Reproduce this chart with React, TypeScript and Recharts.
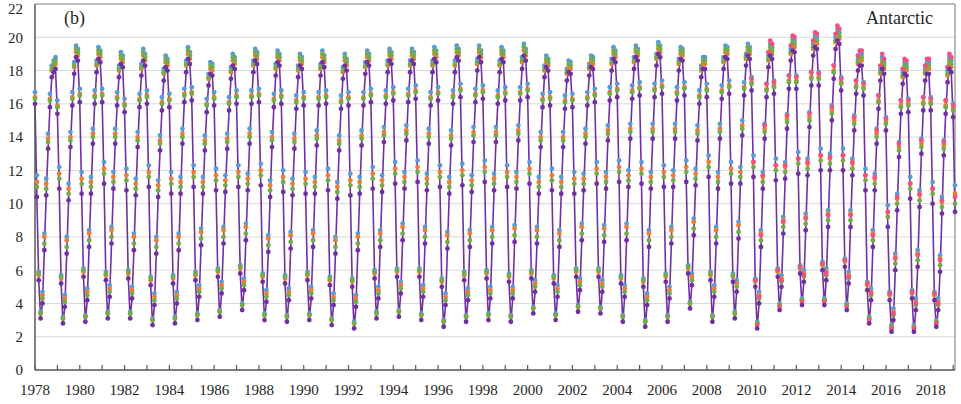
import { LineChart, Line, XAxis, YAxis, CartesianGrid, ReferenceLine } from 'recharts'

// Antarctic sea-ice extent (10^6 km2), monthly, Nov 1978 - Dec 2019.
// one line per year, Jan..Dec (1978 only Nov, Dec)
const PURPLE = [
  16.0, 10.4,
  5.4, 3.1, 4.0, 7.2, 10.5, 13.3, 15.8, 17.6, 17.9, 18.1, 15.4, 10.9,
  5.2, 2.8, 3.8, 7.0, 10.2, 13.4, 15.9, 17.8, 18.8, 18.6, 16.1, 10.6,
  5.6, 2.9, 4.2, 7.4, 10.6, 13.6, 16.0, 17.9, 18.7, 18.5, 16.1, 11.2,
  5.4, 3.1, 4.4, 7.6, 10.9, 13.6, 15.9, 17.6, 18.4, 18.2, 15.5, 10.8,
  5.5, 3.1, 4.3, 7.2, 10.5, 13.4, 15.8, 17.7, 18.6, 18.3, 16.0, 11.0,
  5.1, 2.7, 3.9, 7.0, 10.4, 13.2, 15.6, 17.4, 18.2, 18.0, 15.8, 10.6,
  5.2, 2.8, 4.0, 7.2, 10.6, 13.6, 16.1, 17.9, 18.7, 18.4, 16.2, 11.0,
  5.4, 3.0, 4.4, 7.5, 10.6, 13.2, 15.5, 17.1, 17.8, 17.7, 15.9, 10.8,
  5.6, 3.2, 4.6, 7.6, 10.7, 13.3, 15.6, 17.5, 18.3, 18.1, 16.0, 11.0,
  5.8, 3.6, 4.8, 7.8, 10.8, 13.6, 16.0, 17.9, 18.6, 18.4, 16.1, 11.1,
  5.3, 3.0, 4.1, 7.1, 10.4, 13.4, 15.8, 17.7, 18.5, 18.3, 16.0, 10.7,
  5.2, 2.9, 4.2, 7.3, 10.5, 13.3, 15.7, 17.6, 18.3, 18.1, 15.9, 10.6,
  5.4, 3.0, 4.3, 7.4, 10.6, 13.5, 15.9, 17.7, 18.5, 18.2, 16.0, 10.8,
  5.1, 2.7, 3.9, 7.0, 10.3, 13.2, 15.7, 17.5, 18.3, 18.0, 15.9, 10.5,
  5.0, 2.5, 3.8, 7.2, 10.6, 13.5, 15.9, 17.8, 18.5, 18.3, 16.1, 10.9,
  5.5, 3.1, 4.3, 7.4, 10.7, 13.7, 16.0, 17.9, 18.6, 18.4, 16.2, 11.2,
  5.6, 3.2, 4.6, 7.8, 10.9, 13.8, 16.1, 17.9, 18.6, 18.4, 16.3, 11.3,
  5.6, 3.0, 4.4, 7.6, 10.8, 13.6, 15.9, 17.9, 18.7, 18.5, 16.2, 11.0,
  5.0, 2.6, 3.9, 7.3, 10.6, 13.5, 16.0, 17.9, 18.8, 18.6, 16.4, 11.1,
  5.4, 2.9, 4.2, 7.4, 10.7, 13.7, 16.1, 18.0, 18.8, 18.5, 16.3, 11.3,
  5.5, 3.0, 4.3, 7.6, 10.8, 13.7, 16.0, 17.9, 18.7, 18.5, 16.2, 11.0,
  5.3, 2.9, 4.3, 7.7, 10.9, 13.8, 16.2, 18.1, 18.9, 18.6, 16.4, 11.2,
  5.5, 3.4, 4.7, 7.6, 10.6, 13.4, 15.8, 17.6, 18.2, 18.0, 15.9, 10.8,
  5.2, 3.0, 4.4, 7.4, 10.6, 13.4, 15.7, 17.4, 17.9, 17.8, 15.8, 10.6,
  5.6, 3.5, 4.8, 7.8, 10.8, 13.6, 15.9, 17.7, 18.2, 18.1, 16.1, 11.2,
  5.6, 3.4, 4.7, 7.7, 10.9, 13.8, 16.2, 18.0, 18.7, 18.5, 16.4, 11.3,
  5.2, 2.9, 4.4, 7.8, 11.0, 13.9, 16.3, 18.1, 18.8, 18.6, 16.5, 11.2,
  5.0, 2.6, 3.9, 7.4, 10.9, 13.9, 16.4, 18.3, 19.0, 18.8, 16.6, 11.0,
  5.3, 2.9, 4.3, 7.6, 11.0, 13.9, 16.2, 18.0, 18.7, 18.6, 16.5, 11.3,
  5.8, 3.7, 5.1, 8.1, 11.1, 13.8, 16.0, 17.6, 18.1, 18.1, 16.4, 11.6,
  5.4, 2.9, 4.4, 7.6, 10.9, 13.9, 16.3, 18.1, 18.8, 18.7, 16.6, 11.2,
  5.3, 3.1, 4.7, 7.9, 11.2, 14.1, 16.5, 18.3, 18.9, 18.7, 16.8, 11.6,
  5.0, 2.5, 4.0, 7.4, 10.9, 13.9, 16.4, 18.2, 18.9, 18.7, 16.6, 11.4,
  5.6, 3.6, 5.0, 8.2, 11.5, 14.5, 16.9, 18.6, 19.2, 19.1, 16.9, 11.8,
  5.8, 3.9, 5.3, 8.4, 11.7, 14.6, 17.1, 18.9, 19.4, 19.3, 17.1, 12.0,
  6.0, 3.9, 5.4, 8.6, 12.0, 15.0, 17.5, 19.3, 19.8, 19.6, 16.8, 12.0,
  6.2, 3.6, 5.2, 8.6, 11.7, 14.4, 16.6, 18.0, 18.3, 18.3, 16.5, 10.8,
  4.8, 2.8, 4.2, 7.4, 10.8, 13.6, 15.7, 17.4, 18.1, 17.8, 14.4, 8.6,
  4.2, 2.3, 3.0, 6.0, 9.6, 12.8, 15.4, 17.2, 17.8, 17.7, 15.5, 10.3,
  4.3, 2.3, 3.6, 6.2, 9.8, 13.0, 15.6, 17.4, 17.8, 17.8, 15.6, 10.0,
  4.2, 2.6, 3.6, 5.9, 9.4, 12.9, 15.4, 17.3, 18.1, 17.9, 15.2, 9.5,
]

const BLUE = [
  16.7, 11.7,
  5.9, 3.5, 4.7, 8.2, 11.5, 14.2, 16.6, 18.3, 18.6, 18.8, 16.2, 12.2,
  5.7, 3.2, 4.5, 8.0, 11.2, 14.3, 16.7, 18.5, 19.5, 19.3, 16.9, 11.9,
  6.1, 3.3, 4.9, 8.4, 11.6, 14.5, 16.8, 18.6, 19.4, 19.2, 16.9, 12.5,
  5.9, 3.5, 5.1, 8.6, 11.9, 14.5, 16.7, 18.3, 19.1, 18.9, 16.3, 12.1,
  6.0, 3.5, 5.0, 8.2, 11.5, 14.3, 16.6, 18.4, 19.3, 19.0, 16.8, 12.3,
  5.6, 3.1, 4.6, 8.0, 11.4, 14.1, 16.4, 18.1, 18.9, 18.7, 16.6, 11.9,
  5.7, 3.2, 4.7, 8.2, 11.6, 14.5, 16.9, 18.6, 19.4, 19.1, 17.0, 12.3,
  5.9, 3.4, 5.1, 8.5, 11.6, 14.1, 16.3, 17.8, 18.5, 18.4, 16.7, 12.1,
  6.1, 3.6, 5.3, 8.6, 11.7, 14.2, 16.4, 18.2, 19.0, 18.8, 16.8, 12.3,
  6.3, 4.0, 5.5, 8.8, 11.8, 14.5, 16.8, 18.6, 19.3, 19.1, 16.9, 12.4,
  5.8, 3.4, 4.8, 8.1, 11.4, 14.3, 16.6, 18.4, 19.2, 19.0, 16.8, 12.0,
  5.7, 3.3, 4.9, 8.3, 11.5, 14.2, 16.5, 18.3, 19.0, 18.8, 16.7, 11.9,
  5.9, 3.4, 5.0, 8.4, 11.6, 14.4, 16.7, 18.4, 19.2, 18.9, 16.8, 12.1,
  5.6, 3.1, 4.6, 8.0, 11.3, 14.1, 16.5, 18.2, 19.0, 18.7, 16.7, 11.8,
  5.5, 2.9, 4.5, 8.2, 11.6, 14.4, 16.7, 18.5, 19.2, 19.0, 16.9, 12.2,
  6.0, 3.5, 5.0, 8.4, 11.7, 14.6, 16.8, 18.6, 19.3, 19.1, 17.0, 12.5,
  6.1, 3.6, 5.3, 8.8, 11.9, 14.7, 16.9, 18.6, 19.3, 19.1, 17.1, 12.6,
  6.1, 3.4, 5.1, 8.6, 11.8, 14.5, 16.7, 18.6, 19.4, 19.2, 17.0, 12.3,
  5.5, 3.0, 4.6, 8.3, 11.6, 14.4, 16.8, 18.6, 19.5, 19.3, 17.2, 12.4,
  5.9, 3.3, 4.9, 8.4, 11.7, 14.6, 16.9, 18.7, 19.5, 19.2, 17.1, 12.6,
  6.0, 3.4, 5.0, 8.6, 11.8, 14.6, 16.8, 18.6, 19.4, 19.2, 17.0, 12.3,
  5.8, 3.3, 5.0, 8.7, 11.9, 14.7, 17.0, 18.8, 19.6, 19.3, 17.2, 12.5,
  6.0, 3.8, 5.4, 8.6, 11.6, 14.3, 16.6, 18.3, 18.9, 18.7, 16.7, 12.1,
  5.7, 3.4, 5.1, 8.4, 11.6, 14.3, 16.5, 18.1, 18.6, 18.5, 16.6, 11.9,
  6.1, 3.9, 5.5, 8.8, 11.8, 14.5, 16.7, 18.4, 18.9, 18.8, 16.9, 12.5,
  6.1, 3.8, 5.4, 8.7, 11.9, 14.7, 17.0, 18.7, 19.4, 19.2, 17.2, 12.6,
  5.7, 3.3, 5.1, 8.8, 12.0, 14.8, 17.1, 18.8, 19.5, 19.3, 17.3, 12.5,
  5.5, 3.0, 4.6, 8.4, 11.9, 14.8, 17.2, 19.0, 19.7, 19.5, 17.4, 12.3,
  5.8, 3.3, 5.0, 8.6, 12.0, 14.8, 17.0, 18.7, 19.4, 19.3, 17.3, 12.6,
  6.3, 4.1, 5.8, 9.1, 12.1, 14.7, 16.8, 18.3, 18.8, 18.8, 17.2, 12.9,
  5.9, 3.3, 5.1, 8.6, 11.9, 14.8, 17.1, 18.8, 19.5, 19.4, 17.4, 12.5,
  5.8, 3.5, 5.4, 8.9, 12.2, 15.0, 17.3, 19.0, 19.6, 19.4, 17.6, 12.9,
  5.5, 2.9, 4.7, 8.4, 11.9, 14.8, 17.2, 18.9, 19.6, 19.4, 17.4, 12.7,
  6.1, 4.0, 5.7, 9.2, 12.5, 15.4, 17.7, 19.3, 19.9, 19.8, 17.7, 13.1,
  6.3, 4.3, 6.0, 9.4, 12.7, 15.5, 17.9, 19.6, 20.1, 20.0, 17.9, 13.3,
  6.5, 4.3, 6.1, 9.6, 13.0, 15.9, 18.3, 20.0, 20.5, 20.3, 17.6, 13.3,
  6.7, 4.0, 5.9, 9.6, 12.7, 15.3, 17.4, 18.7, 19.0, 19.0, 17.3, 12.1,
  5.3, 3.2, 4.9, 8.4, 11.8, 14.5, 16.5, 18.1, 18.8, 18.5, 15.2, 9.9,
  4.7, 2.7, 3.7, 7.0, 10.6, 13.7, 16.2, 17.9, 18.5, 18.4, 16.3, 11.6,
  4.8, 2.7, 4.3, 7.2, 10.8, 13.9, 16.4, 18.1, 18.5, 18.5, 16.4, 11.3,
  4.7, 3.0, 4.3, 6.9, 10.4, 13.8, 16.2, 18.0, 18.8, 18.6, 16.0, 11.1,
]

const ORANGE = [
  16.4, 11.3,
  5.7, 3.4, 4.5, 8.0, 11.2, 13.9, 16.3, 18.0, 18.2, 18.4, 15.9, 11.8,
  5.5, 3.1, 4.3, 7.8, 10.9, 14.0, 16.4, 18.2, 19.1, 18.9, 16.6, 11.5,
  5.9, 3.2, 4.7, 8.2, 11.3, 14.2, 16.5, 18.3, 19.0, 18.8, 16.6, 12.1,
  5.7, 3.4, 4.9, 8.4, 11.6, 14.2, 16.4, 18.0, 18.7, 18.5, 16.0, 11.7,
  5.8, 3.4, 4.8, 8.0, 11.2, 14.0, 16.3, 18.1, 18.9, 18.6, 16.5, 11.9,
  5.4, 3.0, 4.4, 7.8, 11.1, 13.8, 16.1, 17.8, 18.5, 18.3, 16.3, 11.5,
  5.5, 3.1, 4.5, 8.0, 11.3, 14.2, 16.6, 18.3, 19.0, 18.7, 16.7, 11.9,
  5.7, 3.3, 4.9, 8.3, 11.3, 13.8, 16.0, 17.5, 18.1, 18.0, 16.4, 11.7,
  5.9, 3.5, 5.1, 8.4, 11.4, 13.9, 16.1, 17.9, 18.6, 18.4, 16.5, 11.9,
  6.1, 3.9, 5.3, 8.6, 11.5, 14.2, 16.5, 18.3, 18.9, 18.7, 16.6, 12.0,
  5.6, 3.3, 4.6, 7.9, 11.1, 14.0, 16.3, 18.1, 18.8, 18.6, 16.5, 11.6,
  5.5, 3.2, 4.7, 8.1, 11.2, 13.9, 16.2, 18.0, 18.6, 18.4, 16.4, 11.5,
  5.7, 3.3, 4.8, 8.2, 11.3, 14.1, 16.4, 18.1, 18.8, 18.5, 16.5, 11.7,
  5.4, 3.0, 4.4, 7.8, 11.0, 13.8, 16.2, 17.9, 18.6, 18.3, 16.4, 11.4,
  5.3, 2.8, 4.3, 8.0, 11.3, 14.1, 16.4, 18.2, 18.8, 18.6, 16.6, 11.8,
  5.8, 3.4, 4.8, 8.2, 11.4, 14.3, 16.5, 18.3, 18.9, 18.7, 16.7, 12.1,
  5.9, 3.5, 5.1, 8.6, 11.6, 14.4, 16.6, 18.3, 18.9, 18.7, 16.8, 12.2,
  5.9, 3.3, 4.9, 8.4, 11.5, 14.2, 16.4, 18.3, 19.0, 18.8, 16.7, 11.9,
  5.3, 2.9, 4.4, 8.1, 11.3, 14.1, 16.5, 18.3, 19.1, 18.9, 16.9, 12.0,
  5.7, 3.2, 4.7, 8.2, 11.4, 14.3, 16.6, 18.4, 19.1, 18.8, 16.8, 12.2,
  5.8, 3.3, 4.8, 8.4, 11.5, 14.3, 16.5, 18.3, 19.0, 18.8, 16.7, 11.9,
  5.6, 3.2, 4.8, 8.5, 11.6, 14.4, 16.7, 18.5, 19.2, 18.9, 16.9, 12.1,
  5.8, 3.7, 5.2, 8.4, 11.3, 14.0, 16.3, 18.0, 18.5, 18.3, 16.4, 11.7,
  5.5, 3.3, 4.9, 8.2, 11.3, 14.0, 16.2, 17.8, 18.2, 18.1, 16.3, 11.5,
  5.9, 3.8, 5.3, 8.6, 11.5, 14.2, 16.4, 18.1, 18.5, 18.4, 16.6, 12.1,
  5.9, 3.7, 5.2, 8.5, 11.6, 14.4, 16.7, 18.4, 19.0, 18.8, 16.9, 12.2,
  5.5, 3.2, 4.9, 8.6, 11.7, 14.5, 16.8, 18.5, 19.1, 18.9, 17.0, 12.1,
  5.3, 2.9, 4.4, 8.2, 11.6, 14.5, 16.9, 18.7, 19.3, 19.1, 17.1, 11.9,
  5.6, 3.2, 4.8, 8.4, 11.7, 14.5, 16.7, 18.4, 19.0, 18.9, 17.0, 12.2,
  6.1, 4.0, 5.6, 8.9, 11.8, 14.4, 16.5, 18.0, 18.4, 18.4, 16.9, 12.5,
  5.7, 3.2, 4.9, 8.4, 11.6, 14.5, 16.8, 18.5, 19.1, 19.0, 17.1, 12.1,
  5.6, 3.4, 5.2, 8.7, 11.9, 14.7, 17.0, 18.7, 19.2, 19.0, 17.3, 12.5,
  5.3, 2.8, 4.5, 8.2, 11.6, 14.5, 16.9, 18.6, 19.2, 19.0, 17.1, 12.3,
  5.9, 3.9, 5.5, 9.0, 12.2, 15.1, 17.4, 19.0, 19.5, 19.4, 17.4, 12.7,
  6.1, 4.2, 5.8, 9.2, 12.4, 15.2, 17.6, 19.3, 19.7, 19.6, 17.6, 12.9,
  6.3, 4.2, 5.9, 9.4, 12.7, 15.6, 18.0, 19.7, 20.1, 19.9, 17.3, 12.9,
  6.5, 3.9, 5.7, 9.4, 12.4, 15.0, 17.1, 18.4, 18.6, 18.6, 17.0, 11.7,
  5.1, 3.1, 4.7, 8.2, 11.5, 14.2, 16.2, 17.8, 18.4, 18.1, 14.9, 9.5,
  4.5, 2.6, 3.5, 6.8, 10.3, 13.4, 15.9, 17.6, 18.1, 18.0, 16.0, 11.2,
  4.6, 2.6, 4.1, 7.0, 10.5, 13.6, 16.1, 17.8, 18.1, 18.1, 16.1, 10.9,
  4.5, 2.9, 4.1, 6.7, 10.1, 13.5, 15.9, 17.7, 18.4, 18.2, 15.7, 10.6,
]

const GREEN = [
  16.3, 11.0,
  5.8, 3.4, 4.3, 7.6, 10.9, 13.7, 16.2, 18.1, 18.4, 18.6, 15.8, 11.5,
  5.6, 3.1, 4.1, 7.4, 10.6, 13.8, 16.3, 18.3, 19.3, 19.1, 16.5, 11.2,
  6.0, 3.2, 4.5, 7.8, 11.0, 14.0, 16.4, 18.4, 19.2, 19.0, 16.5, 11.8,
  5.8, 3.4, 4.7, 8.0, 11.3, 14.0, 16.3, 18.1, 18.9, 18.7, 15.9, 11.4,
  5.9, 3.4, 4.6, 7.6, 10.9, 13.8, 16.2, 18.2, 19.1, 18.8, 16.4, 11.6,
  5.5, 3.0, 4.2, 7.4, 10.8, 13.6, 16.0, 17.9, 18.7, 18.5, 16.2, 11.2,
  5.6, 3.1, 4.3, 7.6, 11.0, 14.0, 16.5, 18.4, 19.2, 18.9, 16.6, 11.6,
  5.8, 3.3, 4.7, 7.9, 11.0, 13.6, 15.9, 17.6, 18.3, 18.2, 16.3, 11.4,
  6.0, 3.5, 4.9, 8.0, 11.1, 13.7, 16.0, 18.0, 18.8, 18.6, 16.4, 11.6,
  6.2, 3.9, 5.1, 8.2, 11.2, 14.0, 16.4, 18.4, 19.1, 18.9, 16.5, 11.7,
  5.7, 3.3, 4.4, 7.5, 10.8, 13.8, 16.2, 18.2, 19.0, 18.8, 16.4, 11.3,
  5.6, 3.2, 4.5, 7.7, 10.9, 13.7, 16.1, 18.1, 18.8, 18.6, 16.3, 11.2,
  5.8, 3.3, 4.6, 7.8, 11.0, 13.9, 16.3, 18.2, 19.0, 18.7, 16.4, 11.4,
  5.5, 3.0, 4.2, 7.4, 10.7, 13.6, 16.1, 18.0, 18.8, 18.5, 16.3, 11.1,
  5.4, 2.8, 4.1, 7.6, 11.0, 13.9, 16.3, 18.3, 19.0, 18.8, 16.5, 11.5,
  5.9, 3.4, 4.6, 7.8, 11.1, 14.1, 16.4, 18.4, 19.1, 18.9, 16.6, 11.8,
  6.0, 3.5, 4.9, 8.2, 11.3, 14.2, 16.5, 18.4, 19.1, 18.9, 16.7, 11.9,
  6.0, 3.3, 4.7, 8.0, 11.2, 14.0, 16.3, 18.4, 19.2, 19.0, 16.6, 11.6,
  5.4, 2.9, 4.2, 7.7, 11.0, 13.9, 16.4, 18.4, 19.3, 19.1, 16.8, 11.7,
  5.8, 3.2, 4.5, 7.8, 11.1, 14.1, 16.5, 18.5, 19.3, 19.0, 16.7, 11.9,
  5.9, 3.3, 4.6, 8.0, 11.2, 14.1, 16.4, 18.4, 19.2, 19.0, 16.6, 11.6,
  5.7, 3.2, 4.6, 8.1, 11.3, 14.2, 16.6, 18.6, 19.4, 19.1, 16.8, 11.8,
  5.9, 3.7, 5.0, 8.0, 11.0, 13.8, 16.2, 18.1, 18.7, 18.5, 16.3, 11.4,
  5.6, 3.3, 4.7, 7.8, 11.0, 13.8, 16.1, 17.9, 18.4, 18.3, 16.2, 11.2,
  6.0, 3.8, 5.1, 8.2, 11.2, 14.0, 16.3, 18.2, 18.7, 18.6, 16.5, 11.8,
  6.0, 3.7, 5.0, 8.1, 11.3, 14.2, 16.6, 18.5, 19.2, 19.0, 16.8, 11.9,
  5.6, 3.2, 4.7, 8.2, 11.4, 14.3, 16.7, 18.6, 19.3, 19.1, 16.9, 11.8,
  5.4, 2.9, 4.2, 7.8, 11.3, 14.3, 16.8, 18.8, 19.5, 19.3, 17.0, 11.6,
  5.7, 3.2, 4.6, 8.0, 11.4, 14.3, 16.6, 18.5, 19.2, 19.1, 16.9, 11.9,
  6.2, 4.0, 5.4, 8.5, 11.5, 14.2, 16.4, 18.1, 18.6, 18.6, 16.8, 12.2,
  5.8, 3.2, 4.7, 8.0, 11.3, 14.3, 16.7, 18.6, 19.3, 19.2, 17.0, 11.8,
  5.7, 3.4, 5.0, 8.3, 11.6, 14.5, 16.9, 18.8, 19.4, 19.2, 17.2, 12.2,
  5.4, 2.8, 4.3, 7.8, 11.3, 14.3, 16.8, 18.7, 19.4, 19.2, 17.0, 12.0,
  6.0, 3.9, 5.3, 8.6, 11.9, 14.9, 17.3, 19.1, 19.7, 19.6, 17.3, 12.4,
  6.2, 4.2, 5.6, 8.8, 12.1, 15.0, 17.5, 19.4, 19.9, 19.8, 17.5, 12.6,
  6.4, 4.2, 5.7, 9.0, 12.4, 15.4, 17.9, 19.8, 20.3, 20.1, 17.2, 12.6,
  6.6, 3.9, 5.5, 9.0, 12.1, 14.8, 17.0, 18.5, 18.8, 18.8, 16.9, 11.4,
  5.2, 3.1, 4.5, 7.8, 11.2, 14.0, 16.1, 17.9, 18.6, 18.3, 14.8, 9.2,
  4.6, 2.6, 3.3, 6.4, 10.0, 13.2, 15.8, 17.7, 18.3, 18.2, 15.9, 10.9,
  4.7, 2.6, 3.9, 6.6, 10.2, 13.4, 16.0, 17.9, 18.3, 18.3, 16.0, 10.6,
  4.6, 2.9, 3.9, 6.3, 9.8, 13.3, 15.8, 17.8, 18.6, 18.4, 15.6, 10.0,
]

// fifth product only from Nov 2010 onward
const PINK_START = 384
const PINK = [
  17.5, 12.5,
  5.4, 2.7, 4.4, 8.1, 11.7, 14.7, 17.2, 19.1, 19.8, 19.6, 17.3, 12.3,
  6.0, 3.8, 5.4, 8.9, 12.3, 15.3, 17.7, 19.5, 20.1, 20.0, 17.6, 12.7,
  6.2, 4.1, 5.7, 9.1, 12.5, 15.4, 17.9, 19.8, 20.3, 20.2, 17.8, 12.9,
  6.4, 4.1, 5.8, 9.3, 12.8, 15.8, 18.3, 20.2, 20.7, 20.5, 17.5, 12.9,
  6.6, 3.8, 5.6, 9.3, 12.5, 15.2, 17.4, 18.9, 19.2, 19.2, 17.2, 11.7,
  5.2, 3.0, 4.6, 8.1, 11.6, 14.4, 16.5, 18.3, 19.0, 18.7, 15.1, 9.5,
  4.6, 2.5, 3.4, 6.7, 10.4, 13.6, 16.2, 18.1, 18.7, 18.6, 16.2, 11.2,
  4.7, 2.5, 4.0, 6.9, 10.6, 13.8, 16.4, 18.3, 18.7, 18.7, 16.3, 10.9,
  4.6, 2.8, 4.0, 6.6, 10.2, 13.7, 16.2, 18.2, 19.0, 18.8, 15.9, 10.4,
]

const YEAR_TICKS = [
  1978, 1979, 1980, 1981, 1982, 1983, 1984, 1985, 1986, 1987, 1988, 1989, 1990, 1991,
  1992, 1993, 1994, 1995, 1996, 1997, 1998, 1999, 2000, 2001, 2002, 2003, 2004, 2005,
  2006, 2007, 2008, 2009, 2010, 2011, 2012, 2013, 2014, 2015, 2016, 2017, 2018, 2019,
]
const Y_TICKS = [0, 2, 4, 6, 8, 10, 12, 14, 16, 18, 20, 22]

const FONT = '"Liberation Serif", "Times New Roman", serif'
const C = {
  blue: '#5B9BD5',
  orange: '#ED7D31',
  green: '#70AD47',
  pink: '#F2507F',
  purple: '#7030A0',
  axis: '#595959',
  frame: '#8c8c8c',
  grid: '#d9d9d9',
  text: '#262626',
}

const data = PURPLE.map((v, i) => ({
  i,
  purple: v,
  blue: BLUE[i],
  orange: ORANGE[i],
  green: GREEN[i],
  pink: i >= PINK_START ? PINK[i - PINK_START] : null,
}))

const LAST = PURPLE.length - 1

function XTick({ x, y, payload }: any) {
  const year = 1978 + payload.value / 12
  return (
    <g>
      <line x1={x} x2={x} y1={y - 5} y2={y} stroke={C.axis} strokeWidth={1.2} />
      {year % 2 === 0 && (
        <text x={x} y={y + 20} dy="0.355em" textAnchor="middle" fontSize={15} fontFamily={FONT} fill={C.text}>
          {year}
        </text>
      )}
    </g>
  )
}

// top label would be clipped by the page edge, keep it just inside
function YTick({ x, y, payload }: any) {
  return (
    <text x={x} y={Math.max(y, 9)} dy="0.355em" textAnchor="end" fontSize={15} fontFamily={FONT} fill={C.text}>
      {payload.value}
    </text>
  )
}

const dotOnly = (color: string) => ({ r: 2.4, fill: color, stroke: 'none', strokeWidth: 0 })

export default function App() {
  return (
    <div style={{ position: 'absolute', left: 0, top: 0, width: 961, height: 404, background: '#fff' }}>
      <LineChart width={961} height={404} data={data} margin={{ top: 4, right: 6, left: 0, bottom: 0 }}>
        <CartesianGrid vertical={false} stroke={C.grid} />
        <XAxis
          type="number"
          dataKey="i"
          domain={[0, LAST]}
          ticks={YEAR_TICKS.map((y) => (y - 1978) * 12)}
          interval={0}
          height={34}
          tickSize={0}
          tickMargin={0}
          tickLine={false}
          axisLine={{ stroke: C.axis, strokeWidth: 1.5 }}
          tick={<XTick />}
        />
        <YAxis
          domain={[0, 22]}
          ticks={Y_TICKS}
          interval={0}
          width={35}
          tickSize={0}
          tickMargin={12}
          tickLine={false}
          axisLine={{ stroke: C.axis, strokeWidth: 1.5 }}
          tick={<YTick />}
        />
        <ReferenceLine y={22} stroke={C.frame} strokeWidth={1.2} />
        <ReferenceLine x={LAST} stroke={C.frame} strokeWidth={1.2} />
        <Line dataKey="blue" stroke="none" dot={dotOnly(C.blue)} activeDot={false} isAnimationActive={false} />
        <Line dataKey="orange" stroke="none" dot={dotOnly(C.orange)} activeDot={false} isAnimationActive={false} />
        <Line dataKey="green" stroke="none" dot={dotOnly(C.green)} activeDot={false} isAnimationActive={false} />
        <Line dataKey="pink" stroke="none" dot={dotOnly(C.pink)} activeDot={false} isAnimationActive={false} />
        <Line
          type="linear"
          dataKey="purple"
          stroke={C.purple}
          strokeWidth={1.6}
          dot={dotOnly(C.purple)}
          activeDot={false}
          isAnimationActive={false}
        />
      </LineChart>
      <div style={{ position: 'absolute', left: 64, top: 8, fontFamily: FONT, fontSize: 18, color: C.text }}>(b)</div>
      <div style={{ position: 'absolute', left: 866, top: 8, fontFamily: FONT, fontSize: 18, color: C.text }}>Antarctic</div>
    </div>
  )
}
